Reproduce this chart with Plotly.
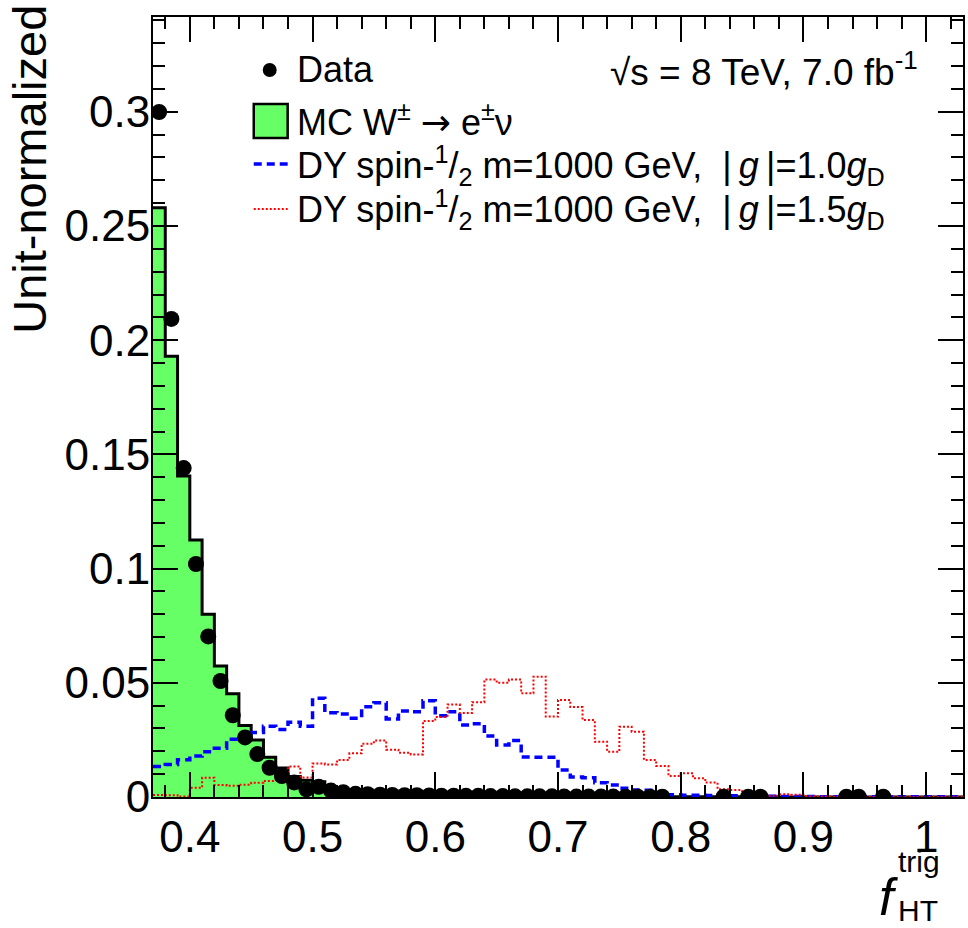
import plotly.graph_objects as go

# ---------------- data ----------------
BIN_START = 0.37
BIN_WIDTH = 0.01
N_BINS = 66
bin_edges = [round(BIN_START + BIN_WIDTH * i, 2) for i in range(N_BINS + 1)]
bin_centers = [round(BIN_START + BIN_WIDTH * (i + 0.5), 3) for i in range(N_BINS)]

mc_w_enu = [
    0.258, 0.193, 0.1405, 0.1125, 0.080, 0.0574, 0.0452, 0.0313, 0.025, 0.0174,
    0.0127, 0.0090, 0.0073, 0.0067, 0.0025, 0.0013, 0.0009, 0.0007, 0.0006, 0.0005,
    0.0005, 0.0004, 0.0004, 0.0004, 0.0003, 0.0003, 0.0003, 0.0003, 0.0003, 0.0002,
    0.0002, 0.0002, 0.0002, 0.0002, 0.0002, 0.0002, 0.0001, 0.0001, 0.0001, 0.0001,
    0.0001, 0.0001, 0.0001, 0.0001, 0.0001, 0.0001, 0.0001, 0.0001, 0.0001, 0.0001,
    0, 0, 0, 0, 0, 0, 0, 0, 0, 0,
    0, 0, 0, 0, 0, 0,
]

data_vals = [
    0.2999, 0.2093, 0.1440, 0.1020, 0.0703, 0.0508, 0.0358, 0.0261, 0.0188, 0.0128,
    0.0092, 0.0064, 0.0034, 0.0045, 0.0028, 0.0021, 0.0014, 0.0012, 0.0010, 0.0009,
    0.0008, 0.0008, 0.0007, 0.0006, 0.0006, 0.0005, 0.0005, 0.0004, 0.0004, 0.0003,
    0.0003, 0.0003, 0.0003, 0.0002, 0.0002, 0.0002, 0.0002, 0.0002, 0.0001, 0.0001,
    0.0001, 0.0001, None, None, None, None, 0.0001, None, 0.0001, 0.0001,
    None, None, None, None, None, None, 0.0001, 0.0001, None, 0.0001,
    None, None, None, None, None, None,
]

dy_g10 = [
    0.0133, 0.0142, 0.0163, 0.0180, 0.0198, 0.0213, 0.0253, 0.0261, 0.0282, 0.0310,
    0.0296, 0.0327, 0.0310, 0.0432, 0.0369, 0.0363, 0.0345, 0.0395, 0.0413, 0.0342,
    0.0377, 0.0373, 0.0421, 0.0356, 0.0373, 0.0315, 0.0321, 0.0267, 0.0228, 0.0247,
    0.0175, 0.0174, 0.0174, 0.0118, 0.0088, 0.0084, 0.0062, 0.0053, 0.0038, 0.0031,
    0.0030, 0.0010, 0.0010, 0.0008, 0.0008, 0.0007, 0.0006, 0.0005, 0.0005, 0.0004,
    0.0003, 0.0002, 0.0002, 0.0002, 0.0001, 0.0001, 0.0001, 0.0001, 0.0001, 0.0001,
    0.0001, 0.0001, 0.0001, 0.0001, 0.0001, 0.0001,
]

dy_g15 = [
    0.0009, 0.0008, 0.0002, 0.0040, 0.0084, 0.0053, 0.0049, 0.0054, 0.0062, 0.0070,
    0.0089, 0.0133, 0.0085, 0.0147, 0.0142, 0.0162, 0.0191, 0.0233, 0.0247, 0.0207,
    0.0194, 0.0186, 0.0333, 0.0350, 0.0405, 0.0368, 0.0415, 0.0514, 0.0500, 0.0514,
    0.0454, 0.0527, 0.0352, 0.0425, 0.0394, 0.0337, 0.0242, 0.0198, 0.0308, 0.0286,
    0.0162, 0.0136, 0.0092, 0.0104, 0.0082, 0.0063, 0.0034, 0.0031, 0.0016, 0.0009,
    0.0006, 0.0012, 0.0010, 0.0003, 0.0002, 0.0002, 0.0001, 0.0001, 0.0001, 0.0001,
    0.0001, 0.0001, 0.0001, 0.0001, 0.0001, 0.0001,
]

x_ticks = [0.4, 0.5, 0.6, 0.7, 0.8, 0.9, 1.0]
x_tick_labels = ["0.4", "0.5", "0.6", "0.7", "0.8", "0.9", "1"]
y_ticks = [0, 0.05, 0.1, 0.15, 0.2, 0.25, 0.3]
y_tick_labels = ["0", "0.05", "0.1", "0.15", "0.2", "0.25", "0.3"]

ARROW = "<span style='font-family:DejaVu Sans'>→</span>"
PIPE_G = "|\u2009<i>g</i>\u2009|"
legend_labels = [
    "Data",
    "MC W<sup>±</sup> " + ARROW + " e<sup>±</sup>ν",
    "DY spin-<sup>1</sup>/<sub>2</sub> m=1000 GeV,\u00a0\u00a0" + PIPE_G + "=1.0<i>g</i><sub>D</sub>",
    "DY spin-<sup>1</sup>/<sub>2</sub> m=1000 GeV,\u00a0\u00a0" + PIPE_G + "=1.5<i>g</i><sub>D</sub>",
]
energy_label = "√s = 8 TeV, 7.0 fb<sup>-1</sup>"

# ---------------- layout geometry ----------------
W, H = 968, 928
L, R, T, B = 153, 965, 17, 797
FONT = "Liberation Sans, Arial, Helvetica, sans-serif"


def px(xp):
    return (xp - L) / (R - L)


def py(yp):
    return (B - yp) / (B - T)


def step(vals):
    return list(vals) + [vals[-1]]


fig = go.Figure()

fig.add_trace(go.Scatter(
    x=bin_edges, y=step(mc_w_enu), mode="lines", line_shape="hv",
    line=dict(color="black", width=3), fill="tozeroy",
    fillcolor="#66ff66", showlegend=False, hoverinfo="skip"))

fig.add_trace(go.Scatter(
    x=bin_edges, y=step(dy_g10), mode="lines", line_shape="hv",
    line=dict(color="#0000ff", width=3.5, dash="8px,5px"),
    showlegend=False, hoverinfo="skip"))

fig.add_trace(go.Scatter(
    x=bin_edges, y=step(dy_g15), mode="lines", line_shape="hv",
    line=dict(color="#ff0000", width=2, dash="2px,2px"),
    showlegend=False, hoverinfo="skip"))

fig.add_trace(go.Scatter(
    x=bin_centers, y=data_vals, mode="markers",
    marker=dict(color="black", size=16),
    showlegend=False, hoverinfo="skip"))

axis_common = dict(
    showgrid=False, zeroline=False, showline=True, linecolor="black",
    linewidth=2, mirror="allticks", ticks="inside", tickcolor="black",
    tickwidth=1.5, ticklen=25,
    tickfont=dict(family=FONT, size=44, color="black"),
)

fig.update_xaxes(
    range=[0.37, 1.03], tickmode="array", tickvals=x_ticks,
    ticktext=x_tick_labels, ticklabelstandoff=0,
    minor=dict(ticks="inside", ticklen=12, dtick=0.02, tick0=0.4,
               tickcolor="black", tickwidth=1.5),
    **axis_common)
fig.update_yaxes(
    range=[0, 0.3415], tickmode="array", tickvals=y_ticks,
    ticktext=y_tick_labels, ticklabelstandoff=-8,
    minor=dict(ticks="inside", ticklen=12, dtick=0.01, tick0=0,
               tickcolor="black", tickwidth=1.5),
    **axis_common)

shapes = []
annotations = []

# legend symbols
shapes.append(dict(type="circle", xref="paper", yref="paper",
                   x0=px(263), x1=px(277), y0=py(77), y1=py(63),
                   fillcolor="black", line=dict(color="black", width=0)))
shapes.append(dict(type="rect", xref="paper", yref="paper",
                   x0=px(254), x1=px(288), y0=py(138), y1=py(104),
                   fillcolor="#66ff66", line=dict(color="black", width=2.5)))
shapes.append(dict(type="line", xref="paper", yref="paper",
                   x0=px(254), x1=px(288), y0=py(164), y1=py(164),
                   line=dict(color="#0000ff", width=3.5, dash="8px,5px")))
shapes.append(dict(type="line", xref="paper", yref="paper",
                   x0=px(254), x1=px(288), y0=py(209), y1=py(209),
                   line=dict(color="#ff0000", width=2, dash="2px,2px")))

legend_rows = [70, 120, 165, 209]
for label, yrow in zip(legend_labels, legend_rows):
    annotations.append(dict(
        text=label, xref="paper", yref="paper", x=px(295), y=py(yrow),
        xanchor="left", yanchor="middle", showarrow=False,
        font=dict(family=FONT, size=36, color="black")))

annotations.append(dict(
    text=energy_label, xref="paper", yref="paper", x=px(922), y=py(70),
    xanchor="right", yanchor="middle", showarrow=False,
    font=dict(family=FONT, size=37, color="black")))

# y-axis title
annotations.append(dict(
    text="Unit-normalized", xref="paper", yref="paper", x=px(29), y=py(3),
    xanchor="center", yanchor="top", textangle=-90, showarrow=False,
    font=dict(family=FONT, size=47, color="black")))

# x-axis title f_HT^trig
annotations.append(dict(
    text="<i>f</i>", xref="paper", yref="paper", x=px(890), y=py(897),
    xanchor="center", yanchor="middle", showarrow=False,
    font=dict(family=FONT, size=52, color="black")))
annotations.append(dict(
    text="trig", xref="paper", yref="paper", x=px(898), y=py(862),
    xanchor="left", yanchor="middle", showarrow=False,
    font=dict(family=FONT, size=30, color="black")))
annotations.append(dict(
    text="HT", xref="paper", yref="paper", x=px(898), y=py(910),
    xanchor="left", yanchor="middle", showarrow=False,
    font=dict(family=FONT, size=30, color="black")))

fig.update_layout(
    width=W, height=H,
    margin=dict(l=L, r=W - R, t=T, b=H - B, pad=0),
    paper_bgcolor="white", plot_bgcolor="white",
    shapes=shapes, annotations=annotations,
    font=dict(family=FONT, color="black"),
)

fig.write_html(
    "out.html",
    config={"displayModeBar": False},
    post_script="document.body.style.margin='0';document.body.style.overflow='hidden';",
)
